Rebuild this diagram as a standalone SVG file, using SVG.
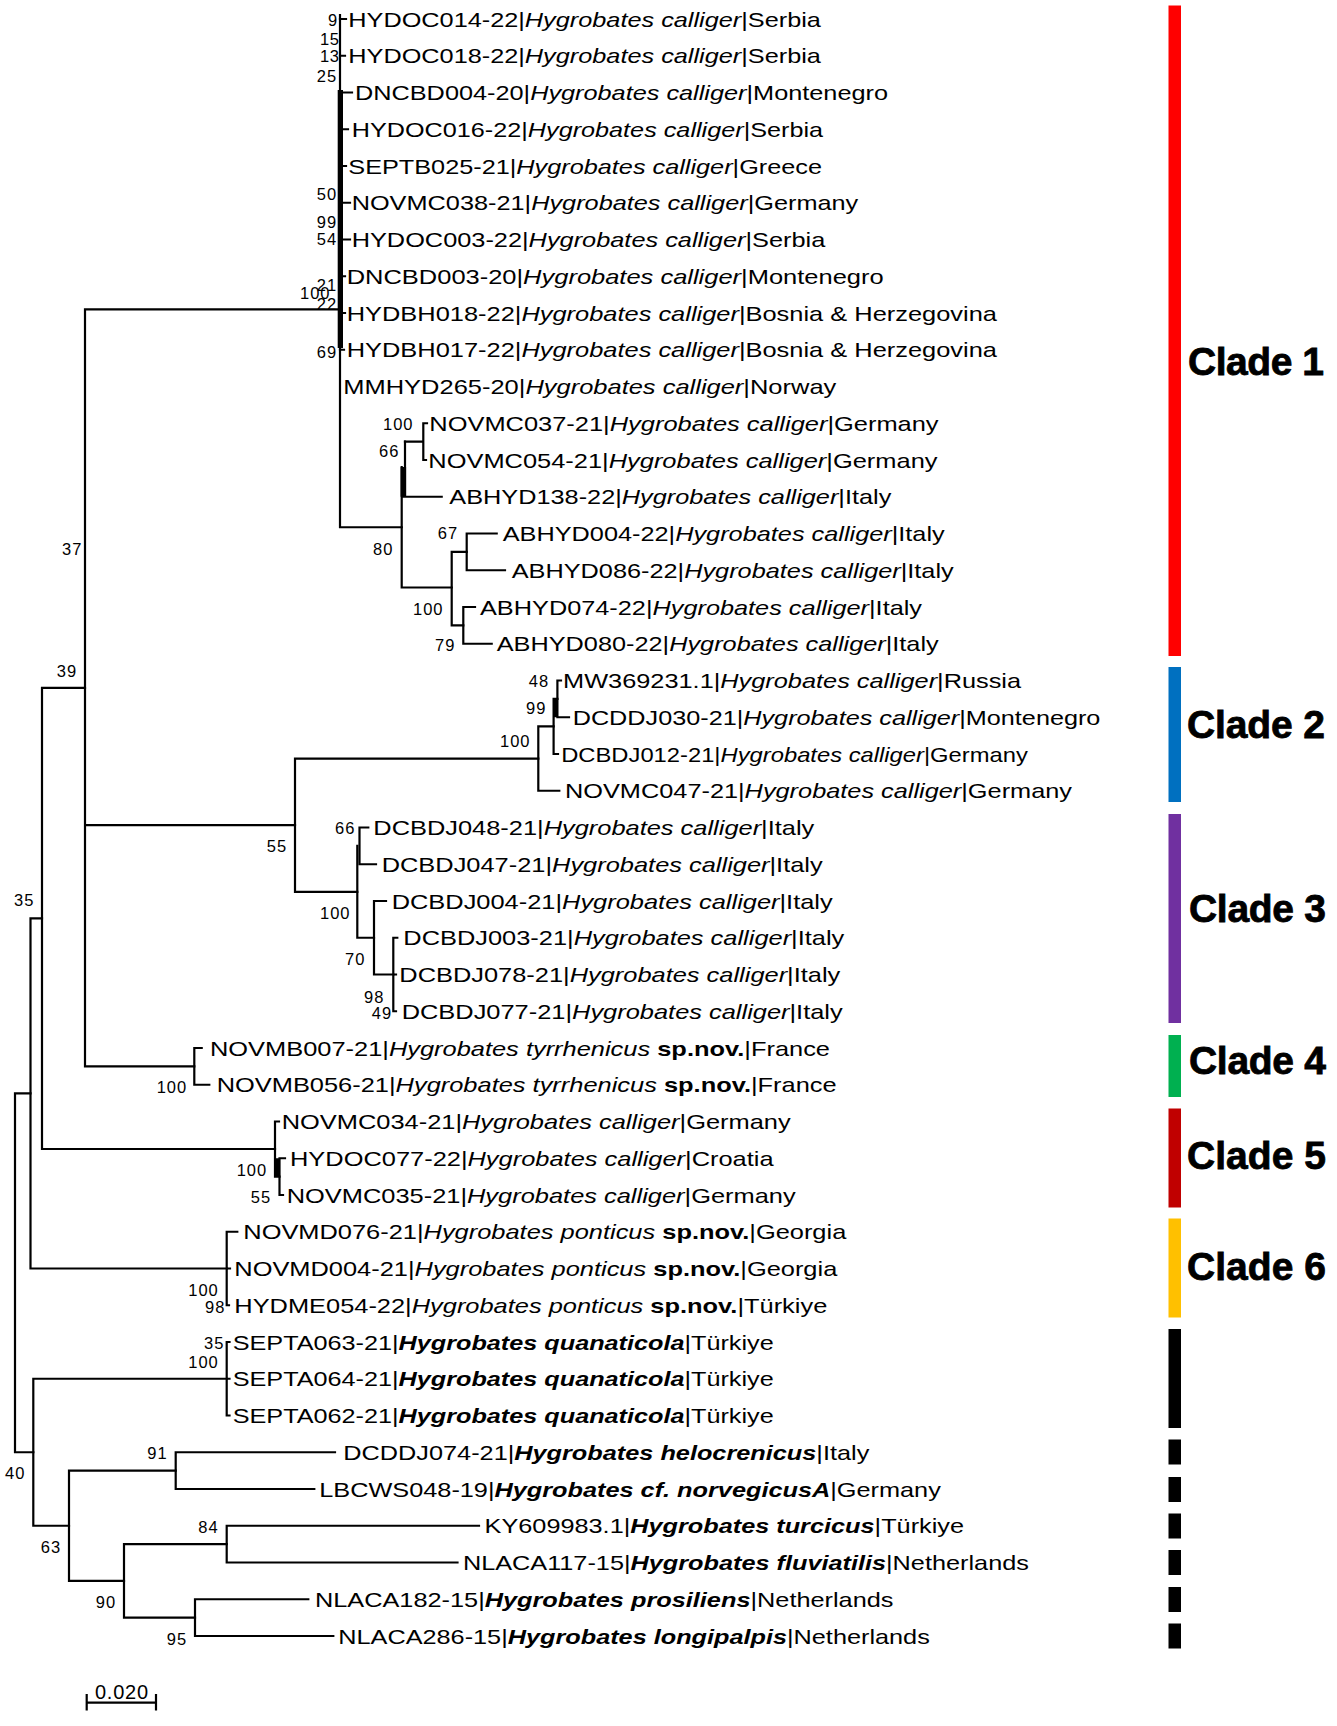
<svg xmlns="http://www.w3.org/2000/svg" width="1337" height="1726" viewBox="0 0 1337 1726">
<style>
.br{stroke:#000;stroke-width:2.2;fill:none;stroke-linecap:square}
.t{font-family:"Liberation Sans",Arial,sans-serif;font-size:21px;fill:#000}
.i{font-style:italic}
.b{font-weight:bold}
.bi{font-weight:bold;font-style:italic}
.s{font-family:"Liberation Sans",Arial,sans-serif;font-size:16.5px;fill:#000}
.cl{font-family:"Liberation Sans",Arial,sans-serif;font-size:39px;font-weight:bold;fill:#000;stroke:#000;stroke-width:0.8}
</style>
<rect width="1337" height="1726" fill="#fff"/>
<g id="connectors">
<path class="br" d="M15 1093.3V1452.25M15 1093.3H30.5M15 1452.25H33.3"/>
<path class="br" d="M30.5 918.3V1268.5M30.5 918.3H42M30.5 1268.5H226.7"/>
<path class="br" d="M42 687.85V1149M42 687.85H85M42 1149H275"/>
<path class="br" d="M85 309.3V1066.4M85 309.3H340M85 825.2H295M85 1066.4H194.3"/>
<path class="br" d="M340 15V527.25H401.7"/>
<rect x="337.7" y="90" width="5.3" height="258" fill="#000"/>
<path class="br" d="M340 19H346M340 55.75H345M340 92.5H352M340 129.25H348M340 166H346M340 202.75H350M340 239.5H350M340 276.25H345M340 313H345M340 349.75H344"/>
<path class="br" d="M401.7 467V587.5H451.7M405 441.6V496.75M401.7 496.75H441.7"/>
<rect x="400.6" y="467" width="5.5" height="29.75" fill="#000"/>
<path class="br" d="M405 441.6H423.3M423.3 423.25V460M423.3 423.25H427M423.3 460H426"/>
<path class="br" d="M451.7 551.9V625.4M451.7 551.9H466.7M451.7 625.4H463.3"/>
<path class="br" d="M466.7 533.5V570.25M466.7 533.5H496.7M466.7 570.25H505"/>
<path class="br" d="M463.3 607V643.75M463.3 607H475M463.3 643.75H491.7"/>
<path class="br" d="M295 758.6V891.8M295 758.6H538.3M295 891.8H357.3"/>
<path class="br" d="M538.3 726.4V790.75M538.3 726.4H553.6M538.3 790.75H559.3"/>
<path class="br" d="M553.6 698.9V754M553.6 698.9H557.4M553.6 754H558"/>
<rect x="553" y="698.9" width="5" height="18.35" fill="#000"/>
<path class="br" d="M557.4 680.5V717.25M557.4 680.5H561M557.4 717.25H569"/>
<path class="br" d="M357.3 845.9V937.75M357.3 937.75H374"/>
<path class="br" d="M359.5 827.5V864.25M359.5 827.5H368.3M359.5 864.25H376"/>
<path class="br" d="M374 901V974.5M374 901H386M374 974.5H393.3"/>
<path class="br" d="M393.3 937.75V1011.25M393.3 937.75H397.3M393.3 974.5H396M393.3 1011.25H396"/>
<path class="br" d="M194.3 1048V1084.75M194.3 1048H201.7M194.3 1084.75H209.3"/>
<path class="br" d="M275 1121.5V1176.6M275 1121.5H279M275 1176.6H279.5"/>
<path class="br" d="M279.5 1158.25V1195M279.5 1158.25H285M279.5 1195H283"/>
<rect x="275" y="1158.25" width="4.5" height="18.35" fill="#000"/>
<path class="br" d="M226.7 1231.75V1305.25M226.7 1231.75H237.3M226.7 1268.5H230M226.7 1305.25H229"/>
<path class="br" d="M33.3 1378.75V1525.75M33.3 1378.75H226.7M33.3 1525.75H69"/>
<path class="br" d="M226.7 1342V1415.5M226.7 1342H229.5M226.7 1378.75H229.5M226.7 1415.5H229.5"/>
<path class="br" d="M69 1470.6V1580.9M69 1470.6H175.7M69 1580.9H124"/>
<path class="br" d="M175.7 1452.25V1489M175.7 1452.25H335M175.7 1489H314.3"/>
<path class="br" d="M124 1544.1V1617.6M124 1544.1H226.7M124 1617.6H195"/>
<path class="br" d="M226.7 1525.75V1562.5M226.7 1525.75H479M226.7 1562.5H457.5"/>
<path class="br" d="M195 1599.25V1636M195 1599.25H308.3M195 1636H333.3"/>
</g>
<g id="tips">
<g id="tip0"><text class="t" x="348.3" y="26.5" textLength="472.6" lengthAdjust="spacingAndGlyphs">HYDOC014-22|<tspan class="i">Hygrobates calliger</tspan>|Serbia</text></g>
<g id="tip1"><text class="t" x="348.3" y="63.25" textLength="472.6" lengthAdjust="spacingAndGlyphs">HYDOC018-22|<tspan class="i">Hygrobates calliger</tspan>|Serbia</text></g>
<g id="tip2"><text class="t" x="355" y="100" textLength="533" lengthAdjust="spacingAndGlyphs">DNCBD004-20|<tspan class="i">Hygrobates calliger</tspan>|Montenegro</text></g>
<g id="tip3"><text class="t" x="351.7" y="136.75" textLength="471.4" lengthAdjust="spacingAndGlyphs">HYDOC016-22|<tspan class="i">Hygrobates calliger</tspan>|Serbia</text></g>
<g id="tip4"><text class="t" x="348.3" y="173.5" textLength="473.7" lengthAdjust="spacingAndGlyphs">SEPTB025-21|<tspan class="i">Hygrobates calliger</tspan>|Greece</text></g>
<g id="tip5"><text class="t" x="351.7" y="210.25" textLength="506.6" lengthAdjust="spacingAndGlyphs">NOVMC038-21|<tspan class="i">Hygrobates calliger</tspan>|Germany</text></g>
<g id="tip6"><text class="t" x="351.7" y="247" textLength="473.6" lengthAdjust="spacingAndGlyphs">HYDOC003-22|<tspan class="i">Hygrobates calliger</tspan>|Serbia</text></g>
<g id="tip7"><text class="t" x="346.7" y="283.75" textLength="536.9" lengthAdjust="spacingAndGlyphs">DNCBD003-20|<tspan class="i">Hygrobates calliger</tspan>|Montenegro</text></g>
<g id="tip8"><text class="t" x="346.7" y="320.5" textLength="650.3" lengthAdjust="spacingAndGlyphs">HYDBH018-22|<tspan class="i">Hygrobates calliger</tspan>|Bosnia &amp; Herzegovina</text></g>
<g id="tip9"><text class="t" x="346.7" y="357.25" textLength="650.3" lengthAdjust="spacingAndGlyphs">HYDBH017-22|<tspan class="i">Hygrobates calliger</tspan>|Bosnia &amp; Herzegovina</text></g>
<g id="tip10"><text class="t" x="343.3" y="394" textLength="493" lengthAdjust="spacingAndGlyphs">MMHYD265-20|<tspan class="i">Hygrobates calliger</tspan>|Norway</text></g>
<g id="tip11"><text class="t" x="429.3" y="430.75" textLength="509.3" lengthAdjust="spacingAndGlyphs">NOVMC037-21|<tspan class="i">Hygrobates calliger</tspan>|Germany</text></g>
<g id="tip12"><text class="t" x="428.3" y="467.5" textLength="509.2" lengthAdjust="spacingAndGlyphs">NOVMC054-21|<tspan class="i">Hygrobates calliger</tspan>|Germany</text></g>
<g id="tip13"><text class="t" x="449.3" y="504.25" textLength="442" lengthAdjust="spacingAndGlyphs">ABHYD138-22|<tspan class="i">Hygrobates calliger</tspan>|Italy</text></g>
<g id="tip14"><text class="t" x="502.7" y="541" textLength="442" lengthAdjust="spacingAndGlyphs">ABHYD004-22|<tspan class="i">Hygrobates calliger</tspan>|Italy</text></g>
<g id="tip15"><text class="t" x="511.7" y="577.75" textLength="442" lengthAdjust="spacingAndGlyphs">ABHYD086-22|<tspan class="i">Hygrobates calliger</tspan>|Italy</text></g>
<g id="tip16"><text class="t" x="480" y="614.5" textLength="442" lengthAdjust="spacingAndGlyphs">ABHYD074-22|<tspan class="i">Hygrobates calliger</tspan>|Italy</text></g>
<g id="tip17"><text class="t" x="496.7" y="651.25" textLength="442" lengthAdjust="spacingAndGlyphs">ABHYD080-22|<tspan class="i">Hygrobates calliger</tspan>|Italy</text></g>
<g id="tip18"><text class="t" x="563.1" y="688" textLength="458" lengthAdjust="spacingAndGlyphs">MW369231.1|<tspan class="i">Hygrobates calliger</tspan>|Russia</text></g>
<g id="tip19"><text class="t" x="572.7" y="724.75" textLength="527.7" lengthAdjust="spacingAndGlyphs">DCDDJ030-21|<tspan class="i">Hygrobates calliger</tspan>|Montenegro</text></g>
<g id="tip20"><text class="t" x="561.2" y="761.5" textLength="466.6" lengthAdjust="spacingAndGlyphs">DCBDJ012-21|<tspan class="i">Hygrobates calliger</tspan>|Germany</text></g>
<g id="tip21"><text class="t" x="565" y="798.25" textLength="507" lengthAdjust="spacingAndGlyphs">NOVMC047-21|<tspan class="i">Hygrobates calliger</tspan>|Germany</text></g>
<g id="tip22"><text class="t" x="373.3" y="835" textLength="441" lengthAdjust="spacingAndGlyphs">DCBDJ048-21|<tspan class="i">Hygrobates calliger</tspan>|Italy</text></g>
<g id="tip23"><text class="t" x="381.7" y="871.75" textLength="441" lengthAdjust="spacingAndGlyphs">DCBDJ047-21|<tspan class="i">Hygrobates calliger</tspan>|Italy</text></g>
<g id="tip24"><text class="t" x="391.7" y="908.5" textLength="441" lengthAdjust="spacingAndGlyphs">DCBDJ004-21|<tspan class="i">Hygrobates calliger</tspan>|Italy</text></g>
<g id="tip25"><text class="t" x="403.3" y="945.25" textLength="441" lengthAdjust="spacingAndGlyphs">DCBDJ003-21|<tspan class="i">Hygrobates calliger</tspan>|Italy</text></g>
<g id="tip26"><text class="t" x="399.3" y="982" textLength="441" lengthAdjust="spacingAndGlyphs">DCBDJ078-21|<tspan class="i">Hygrobates calliger</tspan>|Italy</text></g>
<g id="tip27"><text class="t" x="401.7" y="1018.75" textLength="441" lengthAdjust="spacingAndGlyphs">DCBDJ077-21|<tspan class="i">Hygrobates calliger</tspan>|Italy</text></g>
<g id="tip28"><text class="t" x="210" y="1055.5" textLength="620" lengthAdjust="spacingAndGlyphs">NOVMB007-21|<tspan class="i">Hygrobates tyrrhenicus</tspan> <tspan class="b">sp.nov.</tspan>|France</text></g>
<g id="tip29"><text class="t" x="216.7" y="1092.25" textLength="620" lengthAdjust="spacingAndGlyphs">NOVMB056-21|<tspan class="i">Hygrobates tyrrhenicus</tspan> <tspan class="b">sp.nov.</tspan>|France</text></g>
<g id="tip30"><text class="t" x="281.7" y="1129" textLength="509" lengthAdjust="spacingAndGlyphs">NOVMC034-21|<tspan class="i">Hygrobates calliger</tspan>|Germany</text></g>
<g id="tip31"><text class="t" x="290" y="1165.75" textLength="483.6" lengthAdjust="spacingAndGlyphs">HYDOC077-22|<tspan class="i">Hygrobates calliger</tspan>|Croatia</text></g>
<g id="tip32"><text class="t" x="286.7" y="1202.5" textLength="509" lengthAdjust="spacingAndGlyphs">NOVMC035-21|<tspan class="i">Hygrobates calliger</tspan>|Germany</text></g>
<g id="tip33"><text class="t" x="243.3" y="1239.25" textLength="603" lengthAdjust="spacingAndGlyphs">NOVMD076-21|<tspan class="i">Hygrobates ponticus</tspan> <tspan class="b">sp.nov.</tspan>|Georgia</text></g>
<g id="tip34"><text class="t" x="234.3" y="1276" textLength="603" lengthAdjust="spacingAndGlyphs">NOVMD004-21|<tspan class="i">Hygrobates ponticus</tspan> <tspan class="b">sp.nov.</tspan>|Georgia</text></g>
<g id="tip35"><text class="t" x="234.3" y="1312.75" textLength="593" lengthAdjust="spacingAndGlyphs">HYDME054-22|<tspan class="i">Hygrobates ponticus</tspan> <tspan class="b">sp.nov.</tspan>|Türkiye</text></g>
<g id="tip36"><text class="t" x="232.7" y="1349.5" textLength="541" lengthAdjust="spacingAndGlyphs">SEPTA063-21|<tspan class="bi">Hygrobates quanaticola</tspan>|Türkiye</text></g>
<g id="tip37"><text class="t" x="232.7" y="1386.25" textLength="541" lengthAdjust="spacingAndGlyphs">SEPTA064-21|<tspan class="bi">Hygrobates quanaticola</tspan>|Türkiye</text></g>
<g id="tip38"><text class="t" x="232.7" y="1423" textLength="541" lengthAdjust="spacingAndGlyphs">SEPTA062-21|<tspan class="bi">Hygrobates quanaticola</tspan>|Türkiye</text></g>
<g id="tip39"><text class="t" x="343.3" y="1459.75" textLength="526" lengthAdjust="spacingAndGlyphs">DCDDJ074-21|<tspan class="bi">Hygrobates helocrenicus</tspan>|Italy</text></g>
<g id="tip40"><text class="t" x="319.3" y="1496.5" textLength="621.5" lengthAdjust="spacingAndGlyphs">LBCWS048-19|<tspan class="bi">Hygrobates cf. norvegicusA</tspan>|Germany</text></g>
<g id="tip41"><text class="t" x="484.6" y="1533.25" textLength="479.4" lengthAdjust="spacingAndGlyphs">KY609983.1|<tspan class="bi">Hygrobates turcicus</tspan>|Türkiye</text></g>
<g id="tip42"><text class="t" x="462.9" y="1570" textLength="566" lengthAdjust="spacingAndGlyphs">NLACA117-15|<tspan class="bi">Hygrobates fluviatilis</tspan>|Netherlands</text></g>
<g id="tip43"><text class="t" x="315" y="1606.75" textLength="578.5" lengthAdjust="spacingAndGlyphs">NLACA182-15|<tspan class="bi">Hygrobates prosiliens</tspan>|Netherlands</text></g>
<g id="tip44"><text class="t" x="338.3" y="1643.5" textLength="591.5" lengthAdjust="spacingAndGlyphs">NLACA286-15|<tspan class="bi">Hygrobates longipalpis</tspan>|Netherlands</text></g>
</g>
<g id="support">
<text class="s" x="328" y="26" textLength="8.5">9</text>
<text class="s" x="320" y="45" textLength="19">15</text>
<text class="s" x="320" y="62" textLength="19">13</text>
<text class="s" x="316.7" y="82" textLength="19.5">25</text>
<text class="s" x="316.7" y="200" textLength="19.5">50</text>
<text class="s" x="316.7" y="227.7" textLength="19.5">99</text>
<text class="s" x="316.7" y="245.3" textLength="19.5">54</text>
<text class="s" x="316.7" y="291" textLength="19.5">21</text>
<text class="s" x="300" y="298.7" textLength="29.5">100</text>
<text class="s" x="316.7" y="310" textLength="19.5">22</text>
<text class="s" x="316.7" y="357.7" textLength="19.5">69</text>
<text class="s" x="383" y="430" textLength="29.5">100</text>
<text class="s" x="379" y="456.7" textLength="19.5">66</text>
<text class="s" x="373" y="555" textLength="19.5">80</text>
<text class="s" x="437.7" y="539" textLength="19.5">67</text>
<text class="s" x="413" y="615" textLength="29.5">100</text>
<text class="s" x="435" y="651" textLength="19.5">79</text>
<text class="s" x="62" y="555" textLength="19.5">37</text>
<text class="s" x="56.7" y="676.7" textLength="19.5">39</text>
<text class="s" x="528.7" y="686.7" textLength="19.5">48</text>
<text class="s" x="526" y="714.3" textLength="19.5">99</text>
<text class="s" x="500" y="746.7" textLength="29.5">100</text>
<text class="s" x="266.7" y="852" textLength="19.5">55</text>
<text class="s" x="335" y="834.3" textLength="19.5">66</text>
<text class="s" x="320" y="919.3" textLength="29.5">100</text>
<text class="s" x="345" y="965.3" textLength="19.5">70</text>
<text class="s" x="364" y="1002.7" textLength="19.5">98</text>
<text class="s" x="371.7" y="1019.3" textLength="19.5">49</text>
<text class="s" x="14" y="906" textLength="19.5">35</text>
<text class="s" x="156.7" y="1093.3" textLength="29.5">100</text>
<text class="s" x="236.7" y="1176" textLength="29.5">100</text>
<text class="s" x="250.7" y="1202.7" textLength="19.5">55</text>
<text class="s" x="188.3" y="1296" textLength="29.5">100</text>
<text class="s" x="205" y="1313.3" textLength="19.5">98</text>
<text class="s" x="204" y="1349.3" textLength="19.5">35</text>
<text class="s" x="188.3" y="1367.7" textLength="29.5">100</text>
<text class="s" x="5" y="1479.3" textLength="19.5">40</text>
<text class="s" x="40.7" y="1552.7" textLength="19.5">63</text>
<text class="s" x="147.3" y="1458.7" textLength="19.5">91</text>
<text class="s" x="95.7" y="1608.3" textLength="19.5">90</text>
<text class="s" x="198.3" y="1532.7" textLength="19.5">84</text>
<text class="s" x="166.7" y="1645.3" textLength="19.5">95</text>
</g>
<g id="scale-bar">
<path class="br" d="M86.7 1702.7H156M86.7 1695V1709.3M156 1695V1709.3" stroke-linecap="butt"/>
<text class="s" x="95" y="1698.5" textLength="53" style="font-size:20px">0.020</text>
</g>
<g id="clade1"><rect x="1168.5" y="5.5" width="12.5" height="650.5" fill="#FF0000"/><text class="cl" x="1188" y="375" textLength="136">Clade 1</text></g>
<g id="clade2"><rect x="1168.5" y="667" width="12.5" height="135" fill="#0070C0"/><text class="cl" x="1187" y="738" textLength="138">Clade 2</text></g>
<g id="clade3"><rect x="1168.5" y="814" width="12.5" height="209" fill="#7030A0"/><text class="cl" x="1189" y="922" textLength="137">Clade 3</text></g>
<g id="clade4"><rect x="1168.5" y="1035" width="12.5" height="62" fill="#00B050"/><text class="cl" x="1189" y="1074" textLength="137">Clade 4</text></g>
<g id="clade5"><rect x="1168.5" y="1108.5" width="12.5" height="99" fill="#C00000"/><text class="cl" x="1187" y="1169" textLength="139">Clade 5</text></g>
<g id="clade6"><rect x="1168.5" y="1218.5" width="12.5" height="99" fill="#FFC000"/><text class="cl" x="1187" y="1280" textLength="139">Clade 6</text></g>
<g id="outgroup-bars" fill="#000">
<rect x="1168.5" y="1329" width="12.5" height="99"/>
<rect x="1168.5" y="1439.5" width="12.5" height="25"/>
<rect x="1168.5" y="1477" width="12.5" height="25"/>
<rect x="1168.5" y="1513.5" width="12.5" height="25"/>
<rect x="1168.5" y="1550" width="12.5" height="25"/>
<rect x="1168.5" y="1587" width="12.5" height="25"/>
<rect x="1168.5" y="1623.5" width="12.5" height="25"/>
</g>
</svg>
